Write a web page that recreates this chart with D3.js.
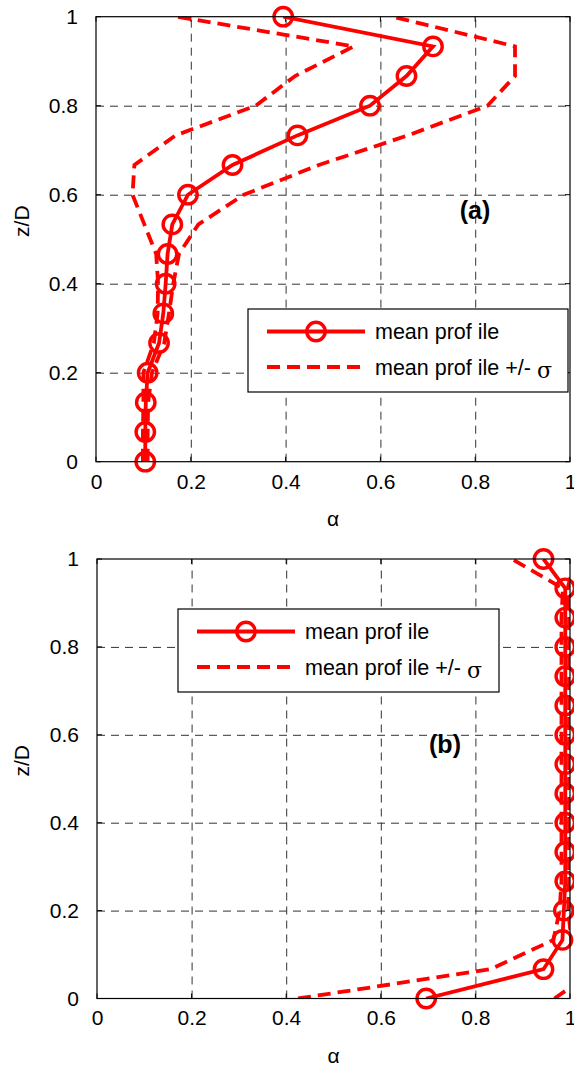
<!DOCTYPE html>
<html>
<head>
<meta charset="utf-8">
<script src="https://cdn.jsdelivr.net/npm/d3@7"></script>
<style>
  html, body { margin: 0; padding: 0; background: #fff; }
  svg { display: block; }
  text { font-family: "Liberation Sans", Arial, sans-serif; fill: #000; }
</style>
</head>
<body>
<svg id="chart" width="574" height="1065"></svg>
<script>
// ---------------- DATA ----------------
const zLevels = [0, 0.0667, 0.1333, 0.2, 0.2667, 0.3333, 0.4, 0.4667, 0.5333, 0.6, 0.6667, 0.7333, 0.8, 0.8667, 0.9333, 1];

// Panel (a)
const meanA  = [0.104, 0.104, 0.105, 0.109, 0.133, 0.142, 0.147, 0.151, 0.161, 0.194, 0.288, 0.425, 0.578, 0.655, 0.711, 0.395];
const lowerA = [0.099, 0.099, 0.100, 0.100, 0.122, 0.130, 0.131, 0.127, 0.102, 0.077, 0.081, 0.168, 0.337, 0.420, 0.544, 0.171];
const upperA = [0.109, 0.109, 0.110, 0.118, 0.144, 0.154, 0.163, 0.175, 0.216, 0.312, 0.470, 0.658, 0.826, 0.884, 0.884, 0.626];

// Panel (b)
const meanB  = [0.696, 0.944, 0.984, 0.987, 0.990, 0.990, 0.990, 0.990, 0.990, 0.990, 0.990, 0.990, 0.990, 0.990, 0.990, 0.944];
const lowerB = [0.425, 0.832, 0.965, 0.978, 0.982, 0.982, 0.982, 0.982, 0.982, 0.982, 0.982, 0.982, 0.982, 0.982, 0.985, 0.877];
const upperB = [0.967, 1.056, 1.003, 0.996, 0.998, 0.998, 0.998, 0.998, 0.998, 0.998, 0.998, 0.998, 0.998, 0.998, 0.995, 1.011];

const xTicks = [0, 0.2, 0.4, 0.6, 0.8, 1];
const xTickLabels = ["0", "0.2", "0.4", "0.6", "0.8", "1"];
const yTicks = [0, 0.2, 0.4, 0.6, 0.8, 1];
const yTickLabels = ["0", "0.2", "0.4", "0.6", "0.8", "1"];

const xLabel = "α";
const yLabel = "z/D";
const legendLabels = ["mean prof ile", "mean prof ile +/- "];
const sigmaSymbol = "σ";

// ---------------- DRAW ----------------
const RED = "#ff0000";
const FONT = 21;
const svg = d3.select("#chart");
svg.append("rect").attr("width", 574).attr("height", 1065).attr("fill", "#fff");

function drawPanel(cfg) {
  const { id, left, right, top, bottom, mean, lower, upper, tag, tagPos, legend } = cfg;
  const x = d3.scaleLinear().domain([0, 1]).range([left, right]);
  const y = d3.scaleLinear().domain([0, 1]).range([bottom, top]);
  const w = right - left, h = bottom - top;
  const g = svg.append("g");

  svg.append("clipPath").attr("id", "clip" + id)
    .append("rect").attr("x", left).attr("y", top).attr("width", w).attr("height", h);

  // grid
  const gx = g.append("g").attr("transform", `translate(0,${bottom})`)
    .call(d3.axisBottom(x).tickValues(xTicks.filter(d => d > 0 && d < 1)).tickSize(-h).tickFormat(""));
  const gy = g.append("g").attr("transform", `translate(${left},0)`)
    .call(d3.axisLeft(y).tickValues(yTicks.filter(d => d > 0 && d < 1)).tickSize(-w).tickFormat(""));
  [gx, gy].forEach(a => {
    a.select(".domain").remove();
    a.selectAll("line").attr("stroke", "#333").attr("stroke-width", 1).attr("stroke-dasharray", "8,6");
  });

  // tick labels
  const bx = g.append("g").attr("transform", `translate(0,${bottom})`)
    .call(d3.axisBottom(x).tickValues(xTicks).tickSize(0).tickPadding(12).tickFormat((d, i) => xTickLabels[i]));
  const ly = g.append("g").attr("transform", `translate(${left},0)`)
    .call(d3.axisLeft(y).tickValues(yTicks).tickSize(0).tickPadding(18).tickFormat((d, i) => yTickLabels[i]));
  [bx, ly].forEach(a => {
    a.select(".domain").remove();
    a.selectAll("text").attr("font-size", FONT).attr("font-family", '"Liberation Sans", Arial, sans-serif').attr("fill", "#000");
  });

  // small inward ticks on all sides
  const tk = g.append("g").attr("stroke", "#000").attr("stroke-width", 1);
  xTicks.forEach(v => {
    tk.append("line").attr("x1", x(v)).attr("x2", x(v)).attr("y1", bottom).attr("y2", bottom - 5);
    tk.append("line").attr("x1", x(v)).attr("x2", x(v)).attr("y1", top).attr("y2", top + 5);
  });
  yTicks.forEach(v => {
    tk.append("line").attr("y1", y(v)).attr("y2", y(v)).attr("x1", left).attr("x2", left + 5);
    tk.append("line").attr("y1", y(v)).attr("y2", y(v)).attr("x1", right).attr("x2", right - 5);
  });

  // axis labels
  g.append("text").attr("x", (left + right) / 2).attr("y", bottom + 64)
    .attr("text-anchor", "middle").attr("font-size", FONT).text(xLabel);
  g.append("text").attr("transform", `translate(29,${(top + bottom) / 2 - 18}) rotate(-90)`)
    .attr("text-anchor", "middle").attr("font-size", FONT).text(yLabel);

  // lines
  const lineGen = arr => d3.line().x((d, i) => x(arr[i])).y((d, i) => y(zLevels[i]))(zLevels);
  const lg = g.append("g").attr("clip-path", `url(#clip${id})`);
  [lower, upper].forEach(arr => {
    lg.append("path").attr("d", lineGen(arr)).attr("fill", "none")
      .attr("stroke", RED).attr("stroke-width", 3.8).attr("stroke-dasharray", "13,7");
  });
  lg.append("path").attr("d", lineGen(mean)).attr("fill", "none")
    .attr("stroke", RED).attr("stroke-width", 3.8);

  // markers (not clipped)
  g.append("g").selectAll("circle").data(zLevels).join("circle")
    .attr("cx", (d, i) => x(mean[i])).attr("cy", d => y(d)).attr("r", 9.2)
    .attr("fill", "none").attr("stroke", RED).attr("stroke-width", 3.4);

  // box
  g.append("rect").attr("x", left).attr("y", top).attr("width", w).attr("height", h)
    .attr("fill", "none").attr("stroke", "#000").attr("stroke-width", 1.2);

  // panel tag
  g.append("text").attr("x", tagPos[0]).attr("y", tagPos[1]).attr("text-anchor", "middle")
    .attr("font-size", 25).attr("font-weight", "bold").text(tag);

  // legend
  const L = legend;
  const lgd = g.append("g");
  lgd.append("rect").attr("x", L.x).attr("y", L.y).attr("width", L.w).attr("height", L.h)
    .attr("fill", "#fff").attr("stroke", "#000").attr("stroke-width", 1.2);
  const r1 = L.y + 22.5, r2 = L.y + 58;
  const s0 = L.x + 19, s1 = L.x + 117;
  lgd.append("line").attr("x1", s0).attr("x2", s1).attr("y1", r1).attr("y2", r1)
    .attr("stroke", RED).attr("stroke-width", 3.8);
  lgd.append("circle").attr("cx", (s0 + s1) / 2).attr("cy", r1).attr("r", 9.2)
    .attr("fill", "none").attr("stroke", RED).attr("stroke-width", 3.4);
  lgd.append("line").attr("x1", s0).attr("x2", s1).attr("y1", r2).attr("y2", r2)
    .attr("stroke", RED).attr("stroke-width", 3.8).attr("stroke-dasharray", "13,7");
  lgd.append("text").attr("x", L.x + 127).attr("y", r1 + 7.5).attr("font-size", 21.5).text(legendLabels[0]);
  const t2 = lgd.append("text").attr("x", L.x + 127).attr("y", r2 + 7.5).attr("font-size", 21.5);
  t2.append("tspan").text(legendLabels[1]);
  t2.append("tspan").attr("font-family", '"DejaVu Serif", "Liberation Serif", serif').attr("font-size", 22).attr("dy", 3).text(sigmaSymbol);
}

drawPanel({
  id: "A", left: 96, right: 570, top: 16.7, bottom: 461.7,
  mean: meanA, lower: lowerA, upper: upperA,
  tag: "(a)", tagPos: [475, 219],
  legend: { x: 248, y: 309, w: 320, h: 83 }
});
drawPanel({
  id: "B", left: 97, right: 570, top: 559, bottom: 998.5,
  mean: meanB, lower: lowerB, upper: upperB,
  tag: "(b)", tagPos: [445, 753],
  legend: { x: 178, y: 609, w: 321, h: 83 }
});
</script>
</body>
</html>
